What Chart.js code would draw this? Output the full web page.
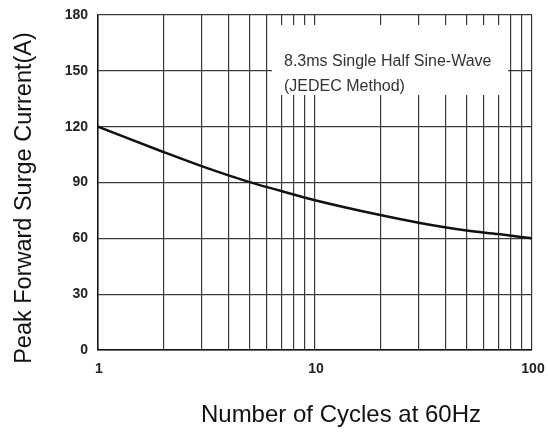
<!DOCTYPE html>
<html>
<head>
<meta charset="utf-8">
<script src="https://cdn.jsdelivr.net/npm/chart.js@4/dist/chart.umd.min.js"></script>
<style>
  html, body { margin: 0; padding: 0; background: #fff; }
  #wrap { width: 548px; height: 432px; }
</style>
</head>
<body>
<div id="wrap"><canvas id="surgeChart"></canvas></div>
<script>
const cycles = [1, 2, 3, 5, 7, 10, 20, 30, 50, 70, 100];
const surgeAmps = [120, 106.4, 98.8, 90.2, 85.4, 80.5, 72.5, 68.4, 64.2, 62.3, 60];

const xTickValues = [1, 2, 3, 4, 5, 6, 7, 8, 9, 10, 20, 30, 40, 50, 60, 70, 80, 90, 100];
const xTickLabels = [1, 10, 100];
const noteLines = ['8.3ms Single Half Sine-Wave', '(JEDEC Method)'];
const xTitle = 'Number of Cycles at 60Hz';
const yTitle = 'Peak Forward Surge Current(A)';

const gridColor = '#3a3a3a';
const tickFont = { family: 'Arial, "Liberation Sans"', size: 14, weight: 'bold' };

// white note box over the grid
const notePlugin = {
  id: 'note',
  beforeDatasetsDraw(chart) {
    const { ctx, chartArea } = chart;
    const x0 = chartArea.left + 174, y0 = chartArea.top + 10;
    ctx.save();
    ctx.fillStyle = '#fff';
    ctx.fillRect(x0, y0, 236, 70);
    ctx.fillStyle = '#333';
    ctx.font = '16px Arial, "Liberation Sans"';
    ctx.textBaseline = 'alphabetic';
    noteLines.forEach((t, i) => ctx.fillText(t, x0 + 12, y0 + 41 + i * 25));
    ctx.restore();
  }
};

// axis titles sit a bit off the plot centre in the original
const titlesPlugin = {
  id: 'axisTitles',
  afterDraw(chart) {
    const { ctx, chartArea } = chart;
    ctx.save();
    ctx.fillStyle = '#111';
    ctx.textAlign = 'center';
    ctx.textBaseline = 'alphabetic';
    ctx.font = '24px Arial, "Liberation Sans"';
    ctx.fillText(xTitle, chartArea.left + 243, chartArea.bottom + 72);
    ctx.translate(31, chartArea.top + 183);
    ctx.rotate(-Math.PI / 2);
    ctx.font = '23.5px Arial, "Liberation Sans"';
    ctx.fillText(yTitle, 0, 0);
    ctx.restore();
  }
};

const ctx = document.getElementById('surgeChart').getContext('2d');
const surgeChart = new Chart(ctx, {
  type: 'line',
  data: {
    datasets: [{
      data: cycles.map((c, i) => ({ x: c, y: surgeAmps[i] })),
      borderColor: '#111',
      borderWidth: 2.5,
      pointRadius: 0,
      cubicInterpolationMode: 'monotone',
      fill: false
    }]
  },
  options: {
    responsive: true,
    maintainAspectRatio: false,
    animation: false,
    layout: { padding: { top: 15, right: 16, left: 0, bottom: 0 } },
    plugins: { legend: { display: false }, tooltip: { enabled: false } },
    scales: {
      x: {
        type: 'logarithmic',
        min: 1,
        max: 100,
        afterBuildTicks: (scale) => { scale.ticks = xTickValues.map(v => ({ value: v })); },
        afterFit: (scale) => {
          scale.height = 82;
          scale.paddingLeft = 0;
          scale.paddingRight = 0;
        },
        grid: { color: gridColor, lineWidth: 1.2, drawTicks: false },
        border: { color: '#111', width: 1.5 },
        ticks: {
          autoSkip: false,
          maxRotation: 0,
          padding: 11,
          labelOffset: 1,
          color: '#222',
          font: tickFont,
          callback: (v) => xTickLabels.includes(v) ? String(v) : ''
        }
      },
      y: {
        min: 0,
        max: 180,
        afterFit: (scale) => {
          scale.width = 98;
          scale.paddingTop = 0;
          scale.paddingBottom = 0;
        },
        grid: { color: gridColor, lineWidth: 1.2, drawTicks: false },
        border: { color: '#111', width: 1.5 },
        ticks: { stepSize: 30, padding: 10, color: '#222', font: tickFont }
      }
    }
  },
  plugins: [notePlugin, titlesPlugin]
});
</script>
</body>
</html>
